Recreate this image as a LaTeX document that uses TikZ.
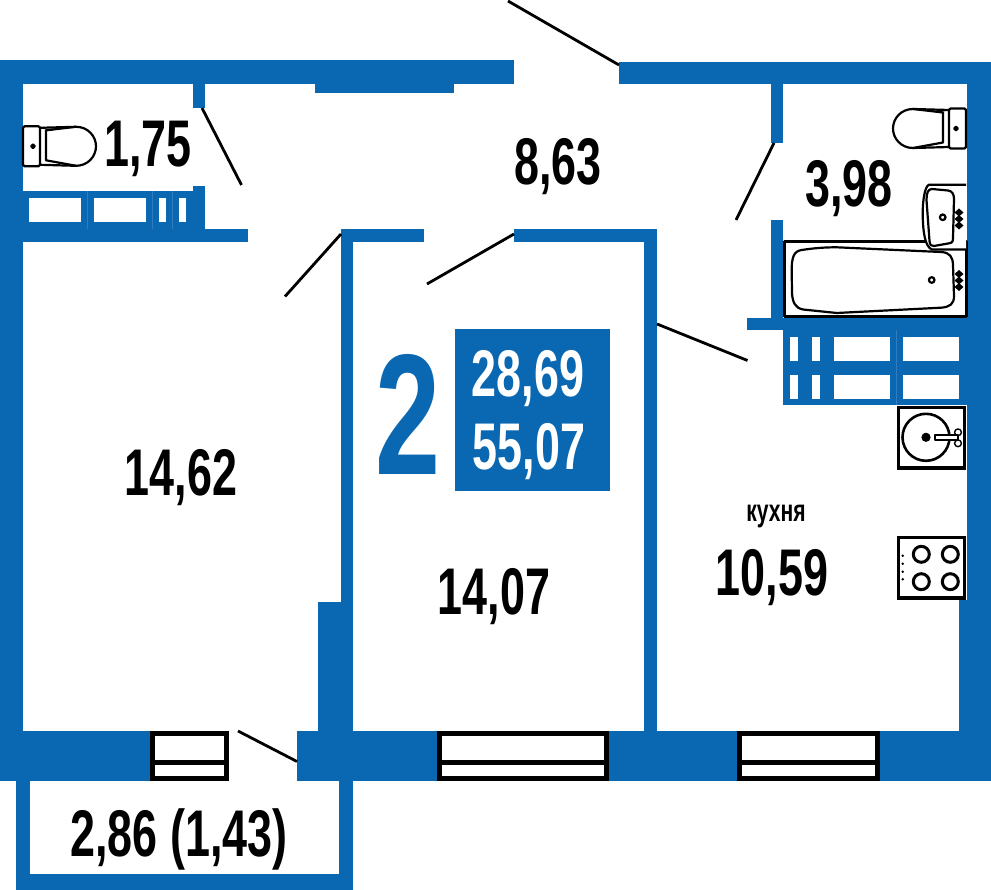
\documentclass[tikz,border=0pt]{standalone}
\usepackage{fontspec}
\usepackage{xcolor}
\definecolor{wall}{RGB}{9,104,177}
\definecolor{seam}{RGB}{48,124,190}
\definecolor{base03}{RGB}{0,0,0}
\newfontfamily\numfont[FakeStretch=0.68]{Liberation Sans}
\usepackage{tikz}
\usetikzlibrary{calc,math}

\begin{document}
\begin{tikzpicture}[x=1pt,y=-1pt,
    every node/.style={inner sep=0pt,anchor=base},
    area/.style={text=base03,font=\numfont\bfseries\fontsize{66}{66}\selectfont},
    fixture/.style={draw=base03,line width=2.2pt,line join=round},
    frame/.style={draw=base03,line width=3.8pt,fill=white},
    door/.style={draw=base03,line width=2.8pt},
    tap/.pic={\fill[base03] (0,-4) -- (4.5,0) -- (0,4) -- (-4.5,0) -- cycle;},
    bowl/.pic={
        \draw[fixture,rounded corners=1.5pt] (0,-20) rectangle (17,20);
        \draw[fixture] (10,0) circle (1.8);
        \draw[fixture] (17,-18.5) -- (53,-19.5) .. controls (65,-19.5) and (73,-10) .. (73,0) .. controls (73,10) and (65,19.5) .. (53,19.5) -- (17,18.5);
        \draw[fixture] (53,-19.5) -- (23,-16) -- (23,14) -- (53,19.5);
        \draw[fixture,line width=.8pt] (17,-18.5) -- (30,-16);
    }]
    \useasboundingbox (0,0) rectangle (991,890);
    \tikzmath{
        let \wintop = 731;
        let \winbot = 781;
    }

    % walls
    \foreach \xa/\ya/\xb/\yb in {0/60/514/84,315/80/454/93,619/62/991/84,0/60/22.5/781,967/62/991/600.5,959/600/991/781,
        0/731/150/781,297/731/437/781,609/731/737/781,880/731/991/781,
        16/779/30/890,16/874/353/890,339/779/353/890,317.5/602/353/733,341/229/353/604,
        341/229/424/242,514/229/657/242,644/229/657/733,
        193/60/205/108,193/186/205/242,22/229/248/242,
        771/82/783/143,771/220/783/320,747/318/967/330}
        \fill[wall] (\xa,\ya) rectangle (\xb,\yb);

    % vents
    \fill[wall] (22,191.5) rectangle (194,230);
    \foreach \xa/\xb in {29/81,94/146,159/166,179/186}
        \fill[white] (\xa,198) rectangle (\xb,222);
    \foreach \xa in {87.5,152.5,172.5}
        \draw[seam,line width=.7pt] (\xa,191.5) -- (\xa,229);
    \fill[wall] (783,329) rectangle (968,405);
    \foreach \xa/\xb in {790/798,812/820,833.5/890,903/959}
        \foreach \ya/\yb in {337/361,375/399}
            \fill[white] (\xa,\ya) rectangle (\xb,\yb);
    \draw[seam,line width=.7pt] (896.5,330) -- (896.5,405);

    % windows
    \foreach \xa/\xb in {150/229,437/609,737/880}{
        \fill[white] (\xa,\wintop) rectangle (\xb,\winbot);
        \draw[frame,line width=4.6pt] (\xa+2.3,\wintop+2.3) rectangle (\xb-2.3,\winbot-2.3);
        \draw[base03,line width=5pt] (\xa,762.5) -- (\xb,762.5);
    }

    % doors
    \draw[door] (508,1) -- (619,65);
    \draw[door] (202,108) -- (241.5,185);
    \draw[door] (285,296.5) -- (341,234);
    \draw[door] (427,284) -- (514,234);
    \draw[door] (736,220) -- (774,143);
    \draw[door] (657,324) -- (747.5,360.5);
    \draw[door] (238,731) -- (297,761.5);

    % bathroom
    \pic at (23,146.3) {bowl};
    \pic[xscale=-1] at (966,128.5) {bowl};
    \draw[fixture,line width=3pt] (784,242) rectangle (966,317);
    \draw[fixture] (801.7,250) .. controls (815,248) and (825,247.3) .. (836.7,247.3) -- (941,252) .. controls (950,252.5) and (952.7,257) .. (953,265) -- (954,296) .. controls (954,304) and (950,307) .. (941,307.7) -- (836.7,313) -- (803,309.5) .. controls (795,308) and (792.5,302) .. (792,293) -- (791.7,270) .. controls (791.7,257) and (794,251) .. (801.7,250);
    \draw[fixture] (931.7,280) circle (2.8);
    \foreach \ya in {274,280.5,287}
        \pic at (959,\ya) {tap};
    \draw[fixture,fill=white] (966,184.7) -- (929,184.7) .. controls (925,186) and (922.5,200) .. (922.7,215) .. controls (923,232) and (925,247) .. (932,249.5) -- (966,249.5);
    \draw[fixture] (932,189) -- (948,190.5) .. controls (952,191) and (954,194) .. (954,199) -- (953,238) .. controls (953,242) and (952,243) .. (948,243.5) -- (934,246) .. controls (931,246.5) and (930,245) .. (929.5,241) -- (926.5,200) .. controls (926.5,193) and (928,189) .. (932,189);
    \draw[fixture] (942.7,217.3) circle (2.8);
    \foreach \ya in {212.5,219,225.5}
        \pic at (959,\ya) {tap};

    % kitchen
    \draw[frame] (898.5,407.5) rectangle (964.5,468);
    \draw[fixture,line width=2.6pt] (926,437.3) circle (23.5);
    \fill[base03] (926,437.3) circle (4.6);
    \draw[fixture,fill=white,line width=1.4pt] (958,432.3) circle (3.4);
    \draw[fixture,fill=white,line width=1.4pt] (958,443.3) circle (3.4);
    \draw[fixture,fill=white,line width=1.6pt] (935,435) rectangle (958,440);
    \draw[frame] (898.5,537.5) rectangle (964.5,598);
    \foreach \xa in {921.3,950.3}
        \foreach \ya in {554.3,581.7}
            \draw[fixture,line width=3pt] (\xa,\ya) circle (8);
    \foreach \ya in {555.7,563.7,571.7,579.3}
        \fill[base03] (902.7,\ya) circle (1.4);

    % labels
    \node[area] (wc) at (148,166.7) {1,75};
    \node[area] (hall) at (558,185) {8,63};
    \node[area] (bath) at (849,206.7) {3,98};
    \node[area] (roomone) at (181,495) {14,62};
    \node[area] (roomtwo) at (494,614) {14,07};
    \node[area] (kitchen) at (772,595) {10,59};
    \node[area] (balcony) at (179,856) {2,86 (1,43)};
    \node[text=base03,font=\numfont\bfseries\fontsize{31}{31}\selectfont] (kitchenname) at (776,521.5) {кухня};

    \fill[wall] (455,329) rectangle (610,491);
    \node[area,text=white] (living) at (528,397) {28,69};
    \node[area,text=white] (total) at (529,470) {55,07};
    \node[text=wall,font=\numfont\bfseries\fontsize{172}{172}\selectfont] (rooms) at (408.5,475) {2};
\end{tikzpicture}
\end{document}
